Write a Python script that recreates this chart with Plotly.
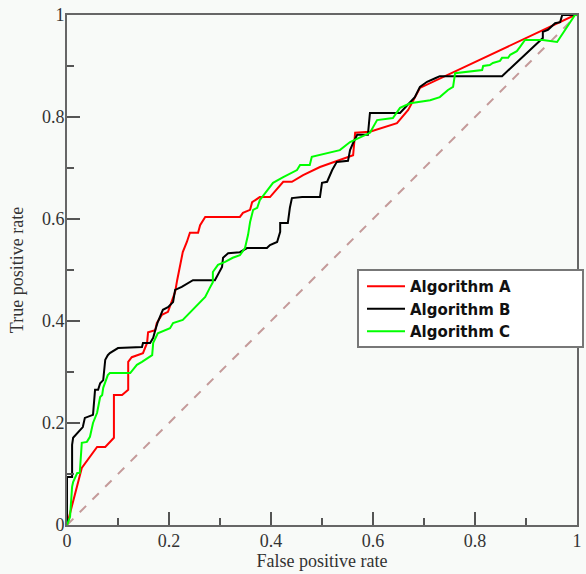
import plotly.graph_objects as go

# Algorithm A (red)
a_fpr = [0, 0.029, 0.059, 0.075, 0.092, 0.092, 0.108, 0.120, 0.120, 0.127, 0.149, 0.157, 0.159,
         0.173, 0.176, 0.186, 0.198, 0.206, 0.212, 0.216, 0.222, 0.227, 0.235, 0.241, 0.257,
         0.261, 0.271, 0.339, 0.345, 0.359, 0.363, 0.378, 0.398, 0.414, 0.424, 0.441, 0.463,
         0.496, 0.535, 0.561, 0.565, 0.594, 0.647, 0.669, 0.692, 0.996, 1.0]
a_tpr = [0, 0.112, 0.153, 0.153, 0.171, 0.255, 0.255, 0.265, 0.320, 0.329, 0.337, 0.357, 0.378,
         0.382, 0.396, 0.412, 0.418, 0.441, 0.457, 0.480, 0.510, 0.535, 0.555, 0.573, 0.573,
         0.588, 0.604, 0.604, 0.612, 0.618, 0.633, 0.643, 0.643, 0.661, 0.673, 0.673, 0.686,
         0.702, 0.716, 0.725, 0.769, 0.771, 0.788, 0.814, 0.857, 1.0, 1.0]

# Algorithm B (black)
b_fpr = [0, 0, 0.010, 0.010, 0.012, 0.020, 0.025, 0.031, 0.035, 0.051, 0.055, 0.061, 0.065,
         0.071, 0.075, 0.080, 0.084, 0.100, 0.147, 0.149, 0.163, 0.169, 0.173, 0.178, 0.188,
         0.198, 0.208, 0.212, 0.225, 0.247, 0.290, 0.296, 0.304, 0.306, 0.316, 0.339, 0.353,
         0.392, 0.398, 0.412, 0.418, 0.418, 0.433, 0.437, 0.441, 0.461, 0.496, 0.500, 0.510,
         0.520, 0.529, 0.551, 0.555, 0.561, 0.569, 0.590, 0.594, 0.653, 0.682, 0.692, 0.706,
         0.722, 0.731, 0.853, 0.933, 0.933, 0.943, 0.957, 0.967, 0.971, 1.0]
b_tpr = [0, 0.094, 0.094, 0.157, 0.171, 0.180, 0.186, 0.192, 0.210, 0.216, 0.265, 0.265, 0.278,
         0.284, 0.324, 0.333, 0.337, 0.347, 0.349, 0.357, 0.357, 0.367, 0.382, 0.398, 0.422,
         0.427, 0.437, 0.461, 0.467, 0.480, 0.480, 0.490, 0.506, 0.524, 0.533, 0.535, 0.543,
         0.543, 0.549, 0.555, 0.575, 0.592, 0.592, 0.622, 0.641, 0.643, 0.643, 0.671, 0.673,
         0.696, 0.712, 0.714, 0.735, 0.749, 0.765, 0.765, 0.808, 0.808, 0.839, 0.859, 0.869,
         0.876, 0.880, 0.880, 0.955, 0.967, 0.971, 0.984, 0.986, 1.0, 1.0]

# Algorithm C (green)
c_fpr = [0, 0.006, 0.010, 0.012, 0.020, 0.025, 0.029, 0.039, 0.045, 0.051, 0.059, 0.065, 0.069,
         0.071, 0.080, 0.084, 0.124, 0.137, 0.147, 0.153, 0.167, 0.169, 0.178, 0.202, 0.208,
         0.227, 0.241, 0.255, 0.271, 0.280, 0.286, 0.286, 0.296, 0.310, 0.325, 0.339, 0.349,
         0.355, 0.359, 0.365, 0.373, 0.378, 0.404, 0.424, 0.451, 0.457, 0.476, 0.480, 0.510,
         0.535, 0.555, 0.594, 0.608, 0.639, 0.653, 0.673, 0.712, 0.731, 0.747, 0.757, 0.761,
         0.814, 0.816, 0.829, 0.835, 0.849, 0.853, 0.865, 0.869, 0.882, 0.888, 0.898, 0.933,
         0.961, 0.996, 1.0]
c_tpr = [0, 0.016, 0.075, 0.084, 0.102, 0.102, 0.161, 0.163, 0.173, 0.200, 0.220, 0.251, 0.255,
         0.269, 0.294, 0.298, 0.298, 0.314, 0.320, 0.324, 0.333, 0.357, 0.376, 0.386, 0.396,
         0.402, 0.416, 0.431, 0.447, 0.465, 0.476, 0.496, 0.510, 0.516, 0.524, 0.529, 0.543,
         0.569, 0.594, 0.618, 0.622, 0.637, 0.671, 0.682, 0.696, 0.706, 0.706, 0.722, 0.729,
         0.735, 0.751, 0.769, 0.794, 0.798, 0.818, 0.827, 0.833, 0.839, 0.853, 0.859, 0.886,
         0.892, 0.900, 0.902, 0.906, 0.910, 0.916, 0.916, 0.922, 0.929, 0.937, 0.951, 0.951,
         0.947, 1.0, 1.0]

diag = [0, 1]
tick_vals = [0, 0.2, 0.4, 0.6, 0.8, 1]
tick_text = ["0", "0.2", "0.4", "0.6", "0.8", "1"]

fig = go.Figure()
fig.add_trace(go.Scatter(x=diag, y=diag, mode="lines", showlegend=False,
                         line=dict(color="#c49a9a", width=2, dash="dash")))
fig.add_trace(go.Scatter(x=a_fpr, y=a_tpr, mode="lines", name="Algorithm A",
                         line=dict(color="#ff0000", width=2)))
fig.add_trace(go.Scatter(x=b_fpr, y=b_tpr, mode="lines", name="Algorithm B",
                         line=dict(color="#000000", width=2)))
fig.add_trace(go.Scatter(x=c_fpr, y=c_tpr, mode="lines", name="Algorithm C",
                         line=dict(color="#00ff00", width=2)))

def axis_common():
    return dict(
        range=[0, 1], tickvals=tick_vals, ticktext=tick_text, ticks="inside", ticklen=13,
        tickwidth=1.5, tickcolor="#555", showline=True, linecolor="#666", linewidth=2,
        mirror=True, showgrid=False, zeroline=False, automargin=False,
        ticklabeloverflow="allow",
        tickfont=dict(family="Liberation Serif", size=18, color="#333"),
        minor=dict(dtick=0.1, ticks="inside", ticklen=7, tickwidth=1.5, tickcolor="#555",
                   showgrid=False),
    )

fig.update_layout(
    width=586, height=574,
    margin=dict(l=67, r=9, t=15, b=49),
    paper_bgcolor="#f8faf8", plot_bgcolor="#f8faf8",
    xaxis=dict(**axis_common(), ticklabelstandoff=-2,
               title=dict(text="False positive rate", standoff=0,
                          font=dict(family="Liberation Serif", size=18, color="#333"))),
    yaxis=dict(**axis_common(), ticklabelstandoff=-3,
               title=dict(text="True positive rate", standoff=14,
                          font=dict(family="Liberation Serif", size=18, color="#333"))),
    legend=dict(x=(362 - 67) / 510, y=(525 - 270) / 510, xanchor="left", yanchor="top",
                bgcolor="rgba(0,0,0,0)", borderwidth=0,
                itemwidth=38, tracegroupgap=0,
                font=dict(family="DejaVu Sans", size=15, color="#111", weight="bold")),
    shapes=[dict(type="rect", xref="paper", yref="paper",
                 x0=(358 - 67) / 510, x1=(583 - 67) / 510,
                 y0=(525 - 347) / 510, y1=(525 - 270) / 510,
                 fillcolor="#ffffff", line=dict(color="#777", width=2), layer="above")],
    showlegend=True,
)

fig.write_html("out.html", config={"displayModeBar": False},
               post_script="document.body.style.margin='0';document.body.style.overflow='hidden';")
